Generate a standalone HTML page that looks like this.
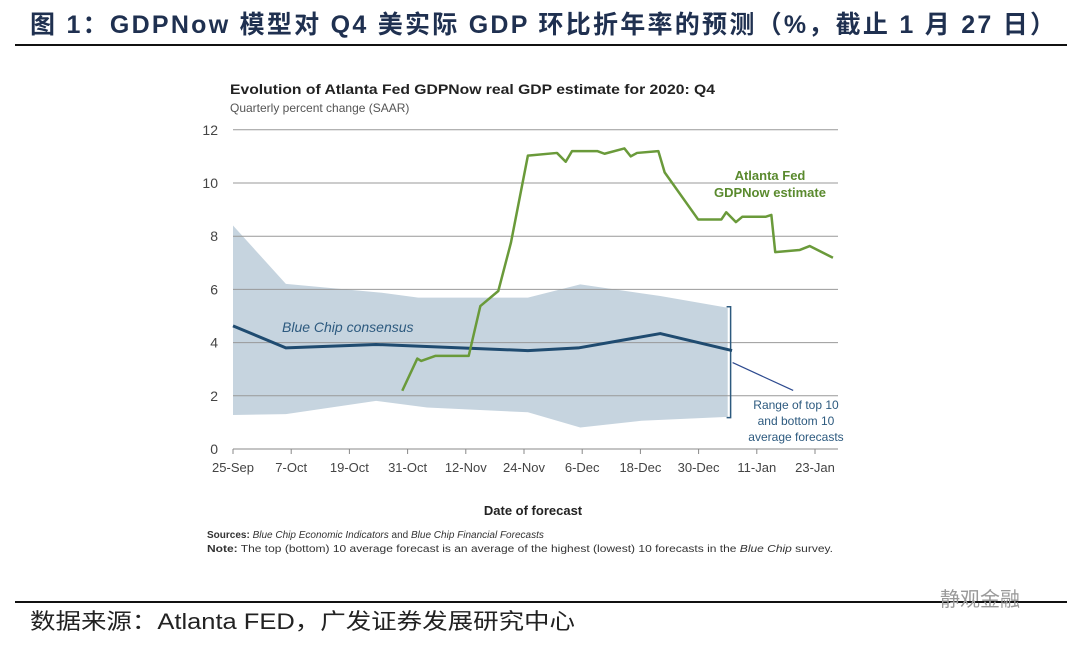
<!DOCTYPE html>
<html><head><meta charset="utf-8"><style>
body{margin:0;background:#fff;width:1080px;height:645px;overflow:hidden}
svg{display:block}
</style></head><body>
<svg width="1080" height="645" xmlns="http://www.w3.org/2000/svg" font-family="Liberation Sans, Noto Sans CJK SC, sans-serif">
<text x="30" y="33" font-size="25" font-weight="bold" fill="#1f3050" textLength="1025" lengthAdjust="spacing">图 1：GDPNow 模型对 Q4 美实际 GDP 环比折年率的预测（%，截止 1 月 27 日）</text>
<line x1="15" y1="45" x2="1067" y2="45" stroke="#111" stroke-width="2"/>
<text x="230" y="94" font-size="14" font-weight="bold" fill="#222" textLength="485" lengthAdjust="spacingAndGlyphs">Evolution of Atlanta Fed GDPNow real GDP estimate for 2020: Q4</text>
<text x="230" y="112" font-size="12" fill="#555">Quarterly percent change (SAAR)</text>
<g id="plot"></g>
<text x="533" y="515" font-size="13" font-weight="bold" fill="#222" text-anchor="middle">Date of forecast</text>
<text x="207" y="538" font-size="10" fill="#333"><tspan font-weight="bold">Sources:</tspan> <tspan font-style="italic">Blue Chip Economic Indicators</tspan> and <tspan font-style="italic">Blue Chip Financial Forecasts</tspan></text>
<text x="207" y="552" font-size="10" fill="#333" textLength="626" lengthAdjust="spacingAndGlyphs"><tspan font-weight="bold">Note:</tspan> The top (bottom) 10 average forecast is an average of the highest (lowest) 10 forecasts in the <tspan font-style="italic">Blue Chip</tspan> survey.</text>
<line x1="15" y1="602" x2="1067" y2="602" stroke="#111" stroke-width="2"/>
<text x="30" y="629" font-size="22" fill="#222" textLength="545" lengthAdjust="spacingAndGlyphs">数据来源：Atlanta FED，广发证券发展研究中心</text>
<text x="940" y="606" font-size="20" fill="#999">静观金融</text>
</svg>
<script>
const yTicks=[0,2,4,6,8,10,12];
const xTickLabels=["25-Sep","7-Oct","19-Oct","31-Oct","12-Nov","24-Nov","6-Dec","18-Dec","30-Dec","11-Jan","23-Jan"];
const xTickDays=[0,12,24,36,48,60,72,84,96,108,120];
const gdpDays=[34.9,38,38.8,41.7,48.6,51,54.7,57.3,60.8,66.8,68.6,69.9,75.1,76.6,80.7,82,83.3,87.7,89,95.9,100.7,101.7,103.7,105,109.8,111,111.8,116.8,118.9,123.7];
const gdpValues=[2.19,3.4,3.31,3.5,3.5,5.375,5.94,7.75,11.03,11.13,10.8,11.2,11.2,11.1,11.3,11.0,11.13,11.2,10.4,8.63,8.63,8.9,8.53,8.73,8.73,8.8,7.4,7.48,7.63,7.19];
const consDays=[0,10.9,29.5,60.8,71.2,88.1,102.9];
const consValues=[4.63,3.8,3.93,3.7,3.8,4.34,3.7];
const topDays=[0,10.9,30.4,38.2,60.8,71.6,88.1,102];
const topValues=[8.4,6.21,5.88,5.69,5.69,6.19,5.75,5.31];
const botDays=[0,10.9,29.5,40,60.8,71.6,84.2,102];
const botValues=[1.28,1.31,1.81,1.56,1.38,0.81,1.06,1.21];
const X=d=>233+d*4.85, Y=v=>449-v*26.6;
const NS="http://www.w3.org/2000/svg", g=document.getElementById('plot');
function mk(t,a){const e=document.createElementNS(NS,t);for(const k in a)e.setAttribute(k,a[k]);g.appendChild(e);return e;}
let d='';topDays.forEach((x,i)=>d+=(i?'L':'M')+X(x)+','+Y(topValues[i]));
for(let i=botDays.length-1;i>=0;i--)d+='L'+X(botDays[i])+','+Y(botValues[i]);
let band=mk('path',{d:d+'Z',fill:'#c6d4df'});


yTicks.forEach(v=>{
 let l=mk('line',{x1:233,x2:838,y1:Y(v),y2:Y(v),stroke:v==0?'#888':'#999','stroke-width':1});
 
 
 let t=mk('text',{x:218,y:Y(v)+5,'font-size':14,fill:'#444','text-anchor':'end'});t.textContent=v;
 
 
});
xTickDays.forEach((dd,i)=>{
 let l=mk('line',{x1:X(dd),x2:X(dd),y1:449,y2:454,stroke:'#888'});
 
 
 let t=mk('text',{x:X(dd),y:472,'font-size':13,fill:'#444','text-anchor':'middle'});t.textContent=xTickLabels[i];
 
 
});
let bd=X(102.6);
let br=mk('path',{d:`M${bd-4},${Y(5.35)}H${bd}V${Y(1.18)}H${bd-4}`,fill:'none',stroke:'#2d5a7f','stroke-width':1.5});


let al=mk('line',{x1:bd+2,y1:Y(3.25),x2:X(115.5),y2:Y(2.2),stroke:'#2d4a8f','stroke-width':1.2});


function line(xs,ys,c,w,n){let p='';xs.forEach((x,i)=>p+=(i?'L':'M')+X(x)+','+Y(ys[i]));let e=mk('path',{d:p,fill:'none',stroke:c,'stroke-width':w,'stroke-linejoin':'round'});
 
 }
line(consDays,consValues,'#1f4b70',3,'blue-chip-consensus-line');
line(gdpDays,gdpValues,'#6a9a3a',2.5,'gdpnow-line');
function lbl(x,y,s,c,a,extra){let t=mk('text',Object.assign({x:x,y:y,'font-size':13,fill:c,'text-anchor':a},extra||{}));t.textContent=s;return t;}
let t1=lbl(770,180,'Atlanta Fed','#5a8a2e','middle',{'font-weight':'bold'});


let t2=lbl(770,197,'GDPNow estimate','#5a8a2e','middle',{'font-weight':'bold'});


let t3=lbl(282,332,'Blue Chip consensus','#2d5a7f','start',{'font-style':'italic','font-size':14});


['Range of top 10','and bottom 10','average forecasts'].forEach((s,i)=>{let t=lbl(796,409+i*16,s,'#2d5a7f','middle',{'font-size':12});
 
 });
</script>
</body></html>
